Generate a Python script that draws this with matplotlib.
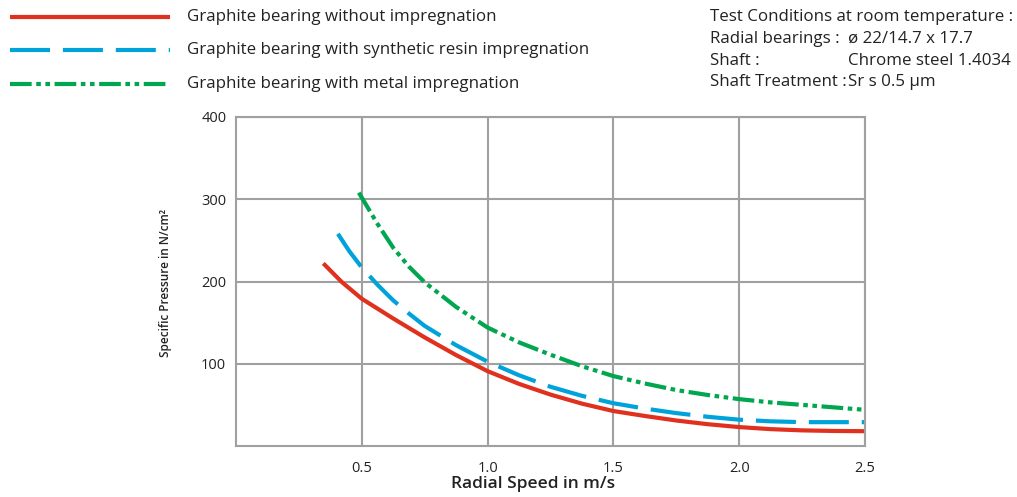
import matplotlib
matplotlib.use("Agg")
import matplotlib.pyplot as plt

plt.rcParams['font.family'] = ['Open Sans', 'DejaVu Sans']

# Data
x_red = [0.347, 0.42, 0.5, 0.625, 0.75, 0.875, 1.0, 1.125, 1.25, 1.375, 1.5,
         1.625, 1.75, 1.875, 2.0, 2.125, 2.25, 2.375, 2.5]
y_red = [222, 199.5, 179, 155, 132, 110.5, 91, 75.5, 62.5, 51.5, 42.5,
         36.5, 31, 26.5, 23, 20.5, 19, 18.3, 18]

x_blue = [0.405, 0.45, 0.5, 0.5625, 0.625, 0.6875, 0.75, 0.875, 1.0, 1.125, 1.25, 1.375, 1.5,
          1.625, 1.75, 1.875, 2.0, 2.125, 2.25, 2.375, 2.5]
y_blue = [258, 237, 217, 196, 177, 161, 146, 122.5, 102.5, 86, 72, 61, 52,
          45.5, 40, 35.5, 32, 30, 29, 29, 29]

x_green = [0.488, 0.5, 0.5625, 0.625, 0.6875, 0.75, 0.875, 1.0, 1.125, 1.25, 1.375, 1.5,
           1.625, 1.75, 1.875, 2.0, 2.125, 2.25, 2.375, 2.5]
y_green = [308, 302, 270, 241, 218, 199, 169, 144, 126, 111, 97, 85,
           76, 68, 62, 57, 53, 50, 47, 44]

series_labels = ["Graphite bearing without impregnation",
                 "Graphite bearing with synthetic resin impregnation",
                 "Graphite bearing with metal impregnation"]

x_ticks = [0.5, 1.0, 1.5, 2.0, 2.5]
y_ticks = [100, 200, 300, 400]

cond_left = ["Test Conditions at room temperature :", "Radial bearings :", "Shaft :", "Shaft Treatment :"]
cond_right = ["", "ø 22/14.7 x 17.7", "Chrome steel 1.4034", "Sr s 0.5 µm"]

RED = "#E0301E"
BLUE = "#00A3D9"
GREEN = "#00A650"
GRID = "#A0A0A0"
TEXT = "#222222"

W, H = 1017, 497
fig = plt.figure(figsize=(W / 100, H / 100), dpi=100)
ax = fig.add_axes([236 / W, 1 - 446 / H, (865 - 236) / W, (446 - 117) / H])

lw = 3.0
green_dash = (0, (5.2, 1.1, 1.1, 1.1, 1.1, 1.1))
blue_dash = (0, (9.6, 3.1))

ax.plot(x_red, y_red, color=RED, lw=lw, solid_capstyle='butt', solid_joinstyle='round')
ax.plot(x_blue, y_blue, color=BLUE, lw=lw, linestyle=blue_dash, dash_joinstyle='round')
ax.plot(x_green, y_green, color=GREEN, lw=lw, linestyle=green_dash, dash_joinstyle='round')

ax.set_xlim(0, 2.5)
ax.set_ylim(0, 400)
ax.set_xticks(x_ticks)
ax.set_xticklabels([f"{v:.1f}" for v in x_ticks])
ax.set_yticks(y_ticks)
ax.set_yticklabels([str(v) for v in y_ticks])
ax.grid(True, color=GRID, lw=1.5)
ax.set_axisbelow(True)
for s in ax.spines.values():
    s.set_color(GRID)
    s.set_linewidth(1.5)
ax.tick_params(length=0, labelsize=10.5, colors=TEXT)
ax.tick_params(axis='y', pad=7)
ax.tick_params(axis='x', pad=11)

fig.text(533 / W, 1 - 484 / H, "Radial Speed in m/s", ha='center', va='center',
         fontsize=12.5, fontweight='semibold', color=TEXT)
fig.text(165 / W, 1 - 283 / H, "Specific Pressure in N/cm²", ha='center', va='center',
         rotation=90, fontsize=8.5, fontweight='semibold', color=TEXT)

# Legend drawn manually at top-left
styles = [dict(color=RED, lw=lw, solid_capstyle='butt'),
          dict(color=BLUE, lw=lw, linestyle=blue_dash),
          dict(color=GREEN, lw=lw, linestyle=green_dash)]
leg_y = [17, 50, 84]
for lab, st, yy in zip(series_labels, styles, leg_y):
    fig.add_artist(plt.Line2D([10 / W, 170 / W], [1 - yy / H, 1 - yy / H],
                              transform=fig.transFigure, **st))
    fig.text(187 / W, 1 - yy / H, lab, ha='left', va='center', fontsize=12.2, color=TEXT)

cond_y = [17, 39, 61, 82]
for l, r, yy in zip(cond_left, cond_right, cond_y):
    fig.text(710 / W, 1 - yy / H, l, ha='left', va='center', fontsize=12.2, color=TEXT)
    if r:
        fig.text(848 / W, 1 - yy / H, r, ha='left', va='center', fontsize=12.2, color=TEXT)

fig.savefig("out.png", dpi=100)
